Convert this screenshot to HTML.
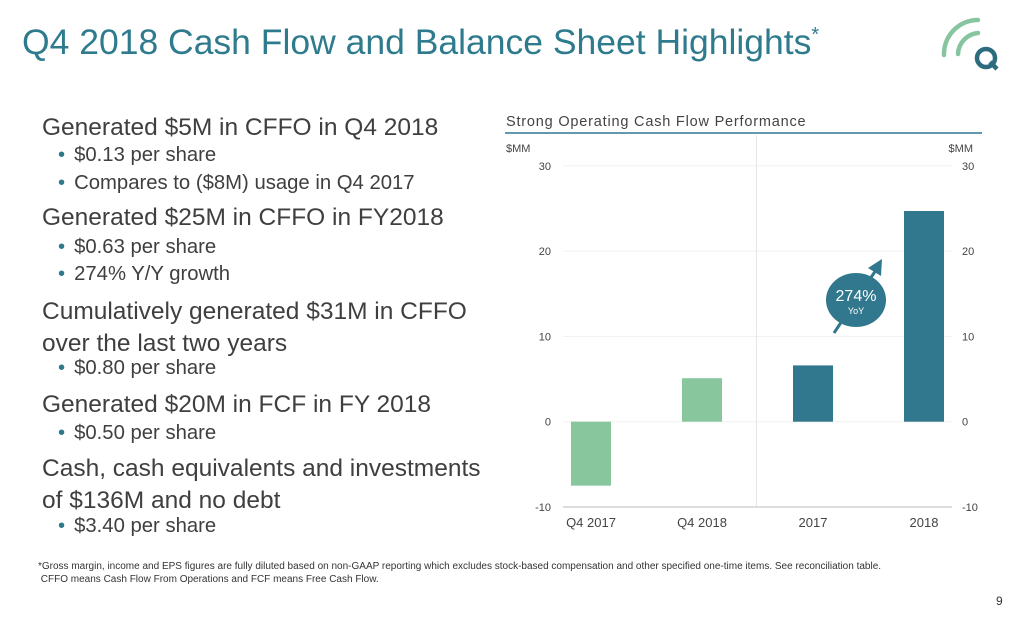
<!DOCTYPE html>
<html><head><meta charset="utf-8"><style>
body{margin:0;width:1024px;height:622px;background:#fff;font-family:"Liberation Sans",sans-serif;position:relative;overflow:hidden}
.a{position:absolute;white-space:nowrap}
.h{font-size:24.5px;color:#3f3f3f}
.b{font-size:20.3px;color:#3f3f3f}
.b:before{content:"•";color:#2e7a8c;margin-right:9px}
</style></head><body>
<div class="a" style="left:22px;top:22px;font-size:35.5px;color:#2f7b8e">Q4 2018 Cash Flow and Balance Sheet Highlights<sup style="font-size:20px">*</sup></div>
<svg class="a" style="left:930px;top:8px" width="80" height="64" viewBox="0 0 80 64">
<path d="M14 47 A34 34 0 0 1 48 12" stroke="#86c59f" stroke-width="4.5" fill="none" stroke-linecap="round"/>
<path d="M28 46 A22 22 0 0 1 48 25" stroke="#86c59f" stroke-width="4.5" fill="none" stroke-linecap="round"/>
<circle cx="56" cy="50" r="9" stroke="#2d6b7e" stroke-width="4.5" fill="none"/>
<path d="M60 54 L67 61" stroke="#2d6b7e" stroke-width="4.5"/>
</svg>
<div class="a h" style="left:42px;top:114px">Generated $5M in CFFO in Q4 2018</div>
<div class="a b" style="left:58px;top:144px">$0.13 per share</div>
<div class="a b" style="left:58px;top:172px">Compares to ($8M) usage in Q4 2017</div>
<div class="a h" style="left:42px;top:204px">Generated $25M in CFFO in FY2018</div>
<div class="a b" style="left:58px;top:236px">$0.63 per share</div>
<div class="a b" style="left:58px;top:263px">274% Y/Y growth</div>
<div class="a h" style="left:42px;top:296px;line-height:32px">Cumulatively generated $31M in CFFO<br>over the last two years</div>
<div class="a b" style="left:58px;top:357px">$0.80 per share</div>
<div class="a h" style="left:42px;top:391px">Generated $20M in FCF in FY 2018</div>
<div class="a b" style="left:58px;top:422px">$0.50 per share</div>
<div class="a h" style="left:42px;top:453px;line-height:32px">Cash, cash equivalents and investments<br>of $136M and no debt</div>
<div class="a b" style="left:58px;top:515px">$3.40 per share</div>
<div class="a" style="left:38px;top:560px;font-size:10px;color:#333;line-height:13px">*Gross margin, income and EPS figures are fully diluted based on non-GAAP reporting which excludes stock-based compensation and other specified one-time items. See reconciliation table.<br>&nbsp;CFFO means Cash Flow From Operations and FCF means Free Cash Flow.</div>
<div class="a" style="left:996px;top:594px;font-size:12px;color:#333">9</div>
<svg id="chart" class="a" style="left:0;top:0" width="1024" height="622"></svg>
<script>
const categories=["Q4 2017","Q4 2018","2017","2018"];
const values=[-7.5,5.1,6.6,24.7];
const colors=["#88c79e","#88c79e","#31778d","#31778d"];
const ticks=[-10,0,10,20,30];
const svg=document.getElementById('chart');const NS="http://www.w3.org/2000/svg";
const y=v=>421.7-v*8.53;const x=i=>591+i*111;
function mk(t,a,txt){const e=document.createElementNS(NS,t);for(const k in a)e.setAttribute(k,a[k]);if(txt!=null)e.textContent=txt;svg.appendChild(e);return e;}
let e=mk('text',{x:506,y:126,'font-size':14.5,'letter-spacing':0.8,fill:'#444','font-family':'Liberation Sans'},'Strong Operating Cash Flow Performance');

e=mk('line',{x1:505,x2:982,y1:133,y2:133,stroke:'#31778d','stroke-width':1.5});

e=mk('text',{x:506,y:152,'font-size':11,fill:'#444','font-family':'Liberation Sans'},'$MM');

e=mk('text',{x:973,y:152,'font-size':11,fill:'#444','font-family':'Liberation Sans','text-anchor':'end'},'$MM');

ticks.forEach(t=>{
 e=mk('line',{x1:563,x2:952,y1:y(t),y2:y(t),stroke:t==-10?'#ddd':'#f0f0f0','stroke-width':t==-10?2:1});
 
 e=mk('text',{x:551,y:y(t)+4,'font-size':11,fill:'#444','text-anchor':'end','font-family':'Liberation Sans'},t);
 
 e=mk('text',{x:962,y:y(t)+4,'font-size':11,fill:'#444','font-family':'Liberation Sans'},t);
 
});
e=mk('line',{x1:756.5,x2:756.5,y1:135,y2:506,stroke:'#e6e6e6'});

values.forEach((v,i)=>{
 e=mk('rect',{x:x(i)-20,y:Math.min(y(v),y(0)),width:40,height:Math.abs(y(v)-y(0)),fill:colors[i]});
 
 e=mk('text',{x:x(i),y:527,'font-size':13,fill:'#444','text-anchor':'middle','font-family':'Liberation Sans'},categories[i]);
 
});
e=mk('path',{d:'M834 333 L876 270',stroke:'#31778d','stroke-width':3});

e=mk('path',{d:'M882 259 L881 276 L868 268 Z',fill:'#31778d'});

e=mk('ellipse',{cx:856,cy:300,rx:30,ry:27,fill:'#31778d'});

e=mk('text',{x:856,y:301,'font-size':16,fill:'#fff','text-anchor':'middle','font-family':'Liberation Sans'},'274%');

e=mk('text',{x:856,y:314,'font-size':9,fill:'#fff','text-anchor':'middle','font-family':'Liberation Sans'},'YoY');

</script>
</body></html>
